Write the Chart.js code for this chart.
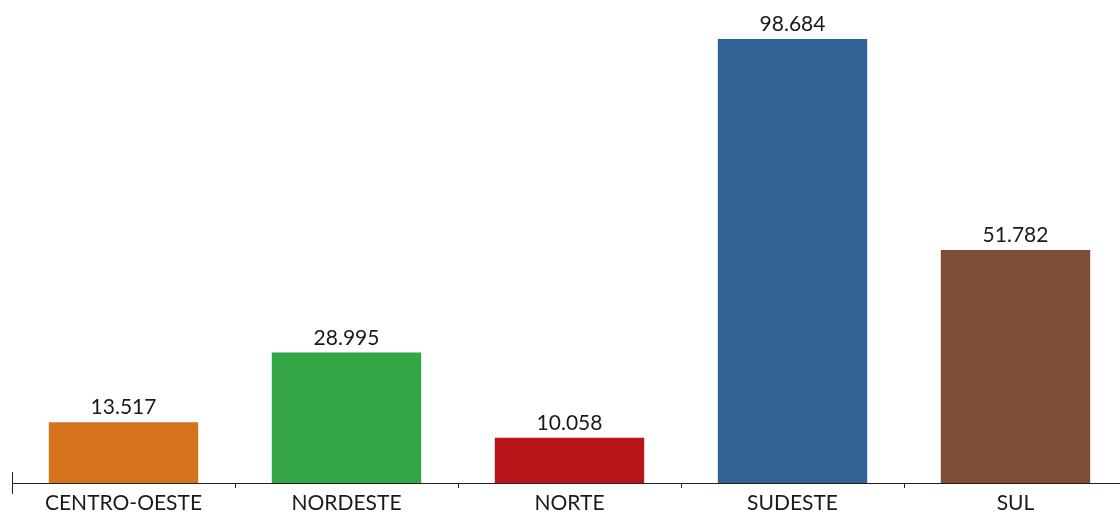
<!DOCTYPE html>
<html><head><meta charset="utf-8">
<script src="https://cdn.jsdelivr.net/npm/chart.js@4/dist/chart.umd.min.js"></script>
<style>html,body{margin:0;padding:0;overflow:hidden;background:#fff;width:1120px;height:513px}canvas{display:block}</style>
</head><body>
<canvas id="c" width="1130" height="513" style="width:1130px;height:513px"></canvas>
<script>
const categories = ["CENTRO-OESTE", "NORDESTE", "NORTE", "SUDESTE", "SUL"];
const values = [13.517, 28.995, 10.058, 98.684, 51.782];
const valueLabels = ["13.517", "28.995", "10.058", "98.684", "51.782"];
const colors = ["#D4731C", "#35A645", "#B8151B", "#306295", "#7F4C36"];
const FONT = "Lato";

const labelPlugin = {
  id: 'labels',
  afterDatasetsDraw(chart) {
    const ctx = chart.ctx;
    const meta = chart.getDatasetMeta(0);
    ctx.save();
    ctx.font = "21px " + FONT;
    ctx.fillStyle = "#1a1a1a";
    ctx.textAlign = "center";
    ctx.textBaseline = "alphabetic";
    meta.data.forEach((bar, i) => {
      ctx.fillText(valueLabels[i], bar.x, bar.y - 8);
    });
    // left tick extension
    const x = Math.round(chart.chartArea.left) + 0.5;
    const b = chart.chartArea.bottom;
    ctx.strokeStyle = "#222";
    ctx.lineWidth = 1;
    ctx.beginPath();
    ctx.moveTo(x, b - 11);
    ctx.lineTo(x, b + 11);
    ctx.stroke();
    ctx.restore();
  }
};

new Chart(document.getElementById('c'), {
  type: 'bar',
  data: {
    labels: categories,
    datasets: [{
      data: values,
      backgroundColor: colors,
      borderWidth: 0,
      categoryPercentage: 1,
      barPercentage: 0.67
    }]
  },
  options: {
    responsive: false,
    animation: false,
    events: [],
    layout: { padding: { left: 12, right: 3, top: 33, bottom: 0 } },
    plugins: { legend: { display: false }, tooltip: { enabled: false } },
    scales: {
      x: {
        offset: true,
        border: { display: true, color: "#222", width: 1 },
        grid: { display: true, offset: true, drawOnChartArea: false, drawTicks: true, tickLength: 5, color: "#222" },
        ticks: { color: "#1a1a1a", font: { family: FONT, size: 21 }, padding: 3, maxRotation: 0, autoSkip: false },
        afterFit(scale) { scale.height = 30; }
      },
      y: {
        display: false,
        min: 0,
        max: 100
      }
    }
  },
  plugins: [labelPlugin]
});
</script>
</body></html>
